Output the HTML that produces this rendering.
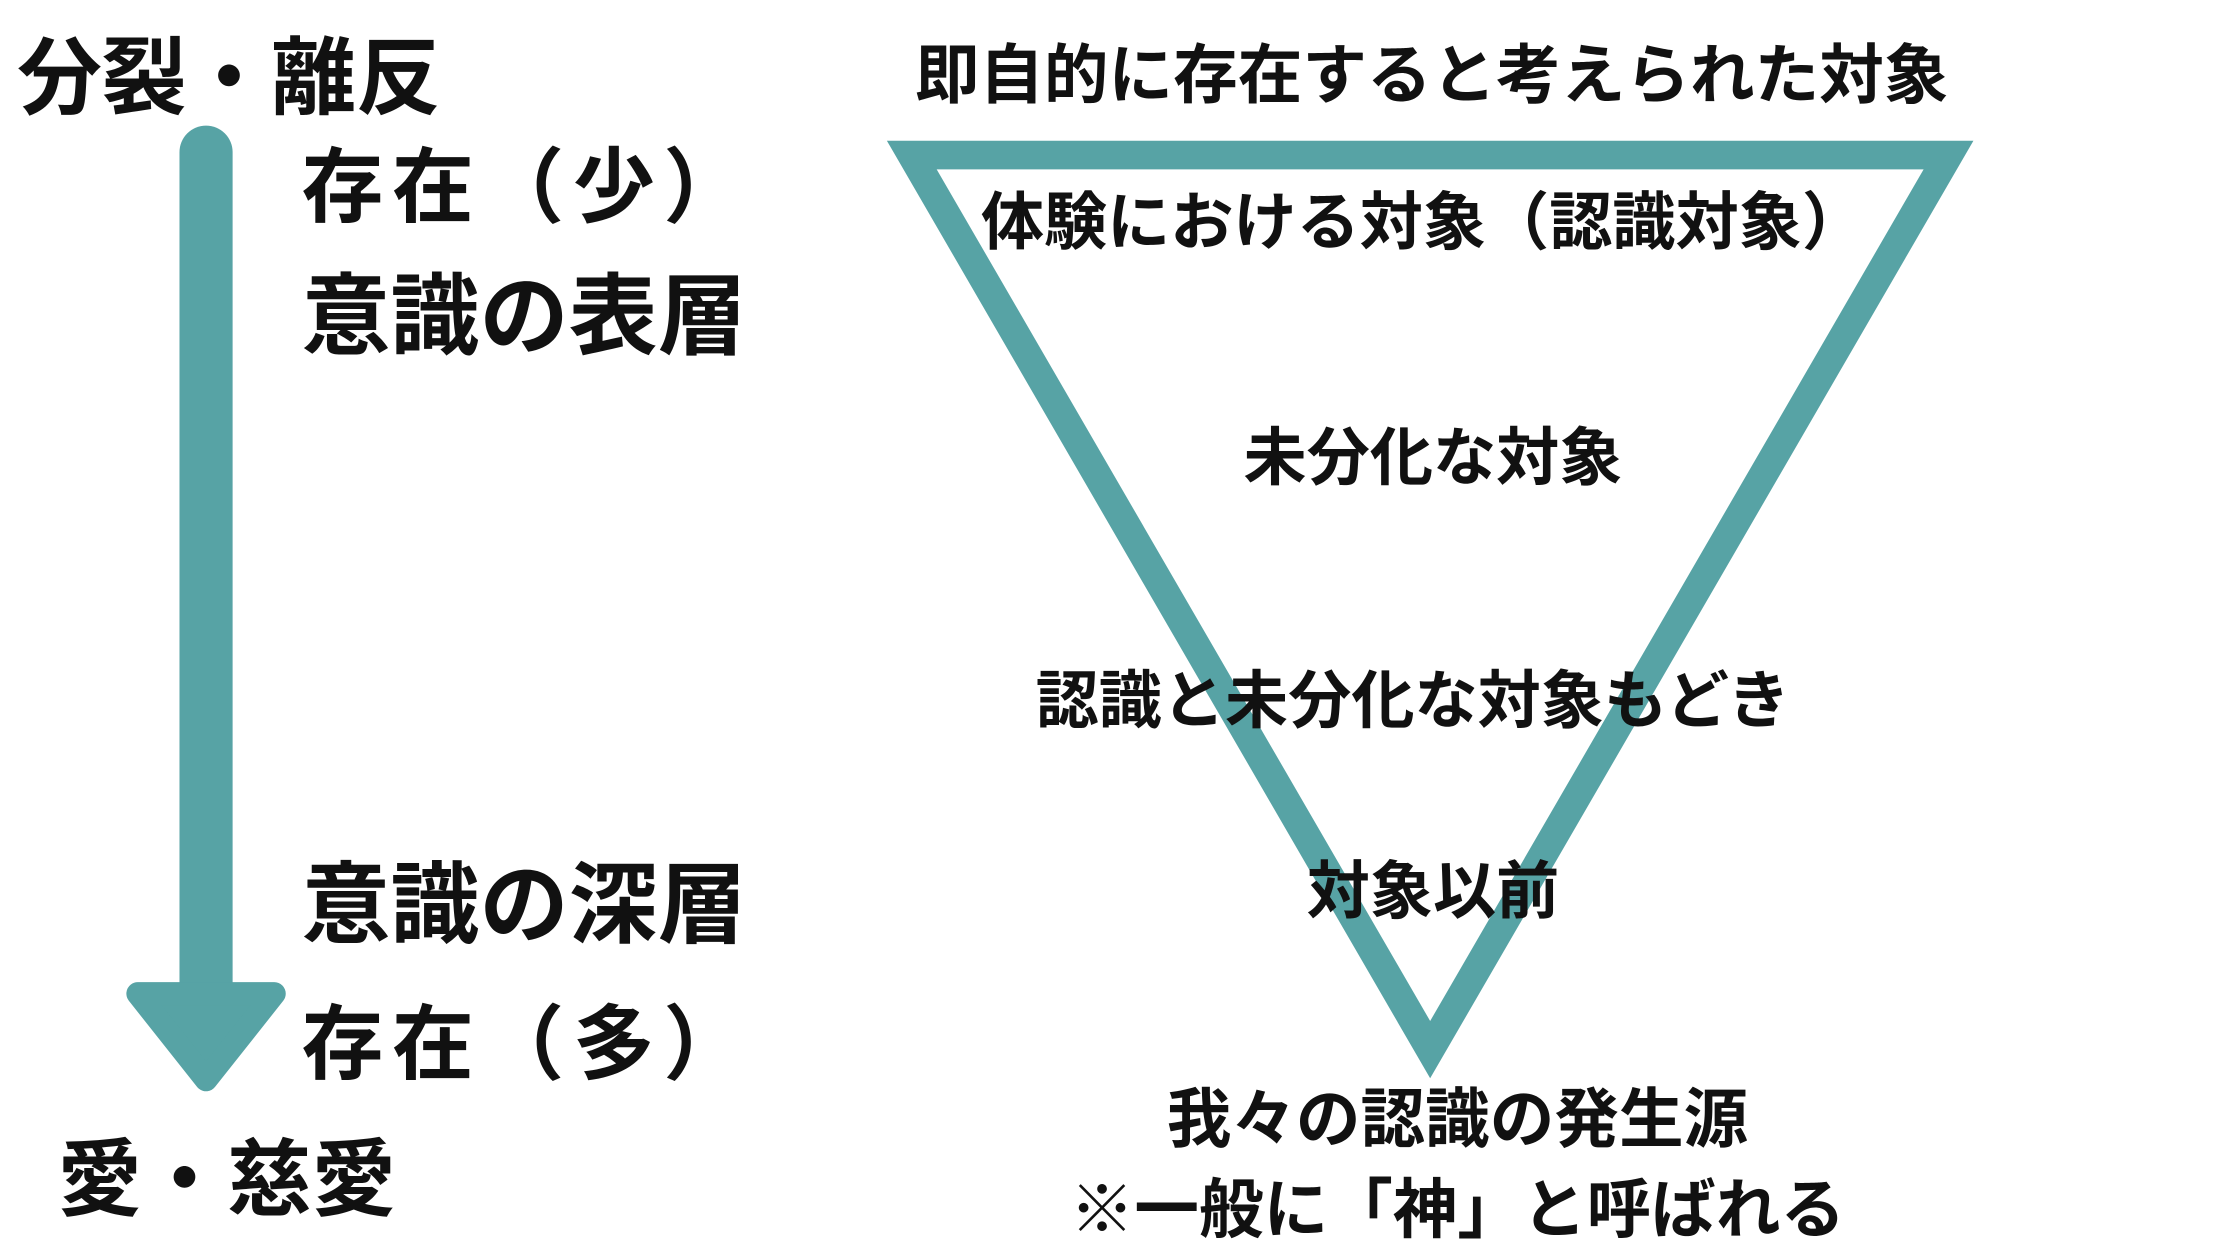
<!DOCTYPE html>
<html><head><meta charset="utf-8"><style>
html,body{margin:0;padding:0;background:#fff;}
svg{display:block}
text{font-family:"Liberation Sans","Noto Sans CJK JP",sans-serif;font-weight:bold;fill:#111;}
</style></head><body>
<svg width="2240" height="1260" viewBox="0 0 1560 877.5" xmlns="http://www.w3.org/2000/svg">
<rect width="1560" height="877.5" fill="#fff"/>
<line x1="143.5" y1="106" x2="143.5" y2="700" stroke="#57a3a5" stroke-width="37" stroke-linecap="round"/>
<path d="M96,692 L191,692 L143.5,752 Z" fill="#57a3a5" stroke="#57a3a5" stroke-width="16" stroke-linejoin="round"/>
<path d="M635,108 L1357,108 L996,731 Z" fill="none" stroke="#57a3a5" stroke-width="20" stroke-linejoin="miter"/>
<text x="12" y="75" font-size="59">分裂・離反</text>
<text x="210" y="150" font-size="57" letter-spacing="6">存在（少）</text>
<text x="210" y="242" font-size="62">意識の表層</text>
<text x="210" y="652" font-size="62">意識の深層</text>
<text x="210" y="747" font-size="57" letter-spacing="6">存在（多）</text>
<text x="40" y="842" font-size="59">愛・慈愛</text>
<g text-anchor="middle">
<text x="997" y="68" font-size="45">即自的に存在すると考えられた対象</text>
<text x="991" y="170" font-size="44">体験における対象（認識対象）</text>
<text x="998" y="334" font-size="44">未分化な対象</text>
<text x="984" y="503" font-size="44">認識と未分化な対象もどき</text>
<text x="998" y="636" font-size="44">対象以前</text>
<text x="1015" y="795" font-size="45">我々の認識の発生源</text>
<text x="1015" y="858" font-size="45">※一般に「神」と呼ばれる</text>
</g>
</svg>
</body></html>
